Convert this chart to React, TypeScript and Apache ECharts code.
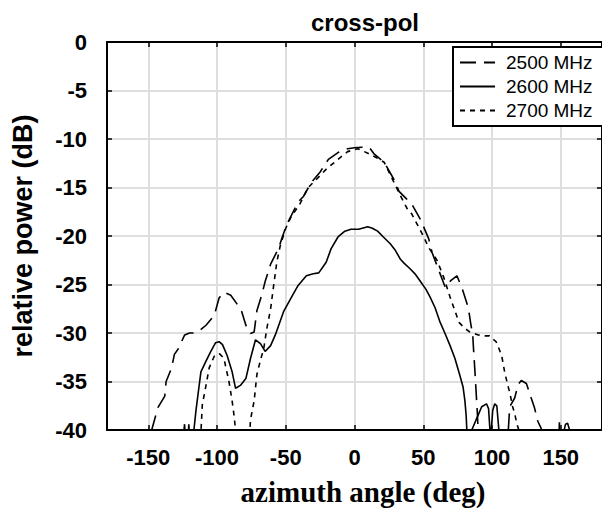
import React, { useEffect, useRef } from "react";
import * as echarts from "echarts";

const xTicks = [-150, -100, -50, 0, 50, 100, 150];
const yTicks = [0, -5, -10, -15, -20, -25, -30, -35, -40];
const seriesNames = ["2500 MHz", "2600 MHz", "2700 MHz"];

const s2500: number[][] = [
  [-152, -45], [-147.5, -40], [-143, -37.7], [-138, -36.5], [-137, -35], [-133, -33.6], [-131, -32.2],
  [-128, -31.6], [-125.5, -30.8], [-123.5, -30.2], [-120, -30.0], [-116.5, -30.0], [-113, -29.8],
  [-108, -29.2], [-102, -28.2], [-98.5, -26.4], [-95, -25.8], [-90, -26.1], [-85.5, -27], [-82, -27.8],
  [-79, -29.2], [-75.6, -30.05], [-73, -29.9], [-71, -27.7], [-67.5, -26.1], [-65, -24.7], [-61, -22.9],
  [-55, -21.2], [-53, -20.3], [-49.5, -18.9], [-46, -17.9], [-41, -16.5], [-37, -15.9], [-31.5, -14.5],
  [-25, -13.4], [-19, -12.1], [-12, -11.4], [-5, -11.0], [0, -10.9], [5, -10.85], [11, -10.9], [14, -11.5],
  [21.6, -12.4], [28.8, -14.2], [32.4, -15.4], [38, -16.2], [42, -16.8], [48, -18.3], [54, -20.3],
  [56.4, -21.7], [62, -23.8], [66, -25.3], [70, -24.6], [74.5, -24.1], [78.5, -25.5], [82.8, -27.4],
  [84.5, -29], [86, -30.2], [86.5, -31.5], [87.6, -34], [89.4, -38.4], [90.5, -42], [100, -46], [111, -42],
  [112.9, -37.6], [116.5, -36.7], [119, -35.3], [121.3, -34.9], [125, -35.2], [128.5, -36.7],
  [130.9, -37.7], [133.3, -39.1], [135.7, -39.8], [137, -41], [140, -45],
];

const s2600: number[][] = [
  [-126, -43], [-123.6, -39.4], [-122, -43], [-120.5, -39.4], [-119, -43], [-116.8, -40], [-115.3, -38],
  [-113.5, -36], [-111.7, -34], [-108, -32.9], [-104.5, -31.9], [-101, -31], [-98.5, -30.9], [-96, -31.2],
  [-92.7, -32.3], [-89, -34], [-86.5, -35.7], [-83, -35.4], [-79, -34.7], [-75.6, -32.6], [-72, -30.7],
  [-68.4, -31.1], [-65, -31.9], [-61, -31.3], [-57.6, -30.2], [-51.6, -27.8], [-45.8, -26.3], [-41, -25.1],
  [-35, -24.1], [-30, -23.9], [-26, -23.8], [-20.6, -22.7], [-17, -21.3], [-12, -20.1], [-7, -19.5],
  [-2.6, -19.3], [3, -19.3], [9.6, -19.05], [13, -19.2], [16.8, -19.5], [21, -20.1], [26, -20.8],
  [29.8, -21.5], [33.4, -22.4], [36, -22.8], [40.6, -23.4], [44, -23.9], [49, -24.9], [52, -25.5],
  [55, -26.3], [58.6, -27.4], [62, -28.8], [66, -30.1], [69.5, -31.3], [73, -32.6], [76.7, -34.4],
  [79, -35.6], [80.3, -37], [81.2, -38.5], [81.7, -40], [83, -44], [85.3, -40], [88.9, -38.8],
  [92.5, -37.6], [96, -37.3], [97.5, -37.8], [98.5, -40], [99, -42], [99.5, -40], [100.5, -38],
  [102, -37.3], [103.5, -37.5], [105, -40], [107, -45], [145, -45], [148.7, -41], [149, -39.2],
  [149.4, -40.5], [152, -40.3], [153.5, -39.4], [155, -39.3], [157, -40.3], [158, -43],
];

const s2700: number[][] = [
  [-113, -44], [-110.7, -37.4], [-108, -35.4], [-105.7, -33.6], [-102, -32.4], [-98.5, -32.1],
  [-95, -32.6], [-91.3, -35], [-89, -37], [-87.7, -38.4], [-86.5, -40], [-82, -46], [-77, -42],
  [-75.6, -38.9], [-73, -37], [-71, -34.3], [-68.4, -32.8], [-66, -31.6], [-63.7, -29.5], [-61, -27.5],
  [-58.8, -25.1], [-56.5, -22.7], [-54, -21], [-50, -19.2], [-46, -18], [-39.7, -16.7], [-33.7, -15],
  [-28, -14.2], [-20.5, -13.1], [-12, -12.1], [-5, -11.3], [2.4, -11.0], [7.2, -11.3], [14.4, -11.8],
  [21.6, -12.4], [28.8, -14.5], [33.6, -15.9], [38.4, -17.2], [41.5, -17.7], [46, -18.9], [50, -20],
  [54, -21.2], [60, -22.5], [65, -24.3], [69.5, -26.3], [73, -27.7], [76, -28.9], [80, -29.5],
  [84, -29.9], [90, -30.2], [95, -30.3], [98.2, -30.3], [103, -30.9], [107, -32.3], [109.3, -34.1],
  [111.7, -35.5], [113, -36.2], [115, -37.6], [116.5, -38.3], [118, -39.3], [119.5, -40], [122, -45],
];

const seriesData = [s2500, s2600, s2700];
const dashes: any[] = [[16, 8], "solid", [5, 5]];

export default function App() {
  const ref = useRef<HTMLDivElement>(null);
  useEffect(() => {
    if (!ref.current) return;
    const chart = echarts.init(ref.current, undefined, { renderer: "svg" });
    const sans = "'Liberation Sans', Arial, sans-serif";
    const tickLabel = { fontFamily: sans, fontWeight: "bold" as const, fontSize: 22, color: "#000" };
    const gridLine = { show: true, lineStyle: { color: "#dedede", width: 2 } };
    chart.setOption({
      animation: false,
      backgroundColor: "#fff",
      title: {
        text: "cross-pol",
        left: 306,
        top: 5,
        textStyle: { fontFamily: sans, fontWeight: "bold", fontSize: 24, color: "#000" },
      },
      grid: { left: 107, right: -4, top: 42, bottom: 79, containLabel: false },
      legend: {
        data: seriesNames,
        orient: "vertical",
        left: 453,
        top: 47,
        padding: [6, 40, 6, 6],
        itemWidth: 35,
        itemHeight: 14,
        itemGap: 5,
        borderColor: "#000",
        borderWidth: 2,
        borderRadius: 0,
        backgroundColor: "#fff",
        itemStyle: { opacity: 0 },
        textStyle: { fontFamily: sans, fontSize: 19, color: "#000", padding: [0, 0, 0, 6] },
      },
      xAxis: [
        {
          type: "value",
          min: -180,
          max: 180,
          position: "bottom",
          name: "azimuth angle (deg)",
          nameLocation: "middle",
          nameGap: 47,
          nameTextStyle: {
            fontFamily: "'Liberation Serif', 'Times New Roman', serif",
            fontWeight: "bold",
            fontSize: 29,
            color: "#000",
            padding: [0, 0, 0, 17],
          },
          axisLine: { show: true, onZero: false, lineStyle: { color: "#000", width: 2 } },
          axisTick: { show: true, inside: true, length: 5, customValues: xTicks, lineStyle: { color: "#000", width: 1.5 } },
          axisLabel: { ...tickLabel, margin: 16, customValues: xTicks },
          splitLine: gridLine,
        },
        {
          type: "value",
          min: -180,
          max: 180,
          position: "top",
          axisLine: { show: true, onZero: false, lineStyle: { color: "#000", width: 2 } },
          axisTick: { show: true, inside: true, length: 5, customValues: xTicks, lineStyle: { color: "#000", width: 1.5 } },
          axisLabel: { show: false, customValues: xTicks },
          splitLine: { show: false },
        },
      ],
      yAxis: [
        {
          type: "value",
          min: -40,
          max: 0,
          interval: 5,
          position: "left",
          name: "relative power (dB)",
          nameLocation: "middle",
          nameGap: 71,
          nameTextStyle: { fontFamily: sans, fontWeight: "bold", fontSize: 27, color: "#000" },
          axisLine: { show: true, onZero: false, lineStyle: { color: "#000", width: 2 } },
          axisTick: { show: true, inside: true, length: 5, lineStyle: { color: "#000", width: 1.5 } },
          axisLabel: { ...tickLabel, margin: 20 },
          splitLine: gridLine,
        },
        {
          type: "value",
          min: -40,
          max: 0,
          interval: 5,
          position: "right",
          axisLine: { show: true, onZero: false, lineStyle: { color: "#000", width: 2 } },
          axisTick: { show: true, inside: true, length: 5, lineStyle: { color: "#000", width: 1.5 } },
          axisLabel: { show: false },
          splitLine: { show: false },
        },
      ],
      series: seriesNames.map((name, i) => ({
        name,
        type: "line",
        xAxisIndex: 0,
        yAxisIndex: 0,
        data: seriesData[i],
        symbol: "none",
        clip: true,
        smooth: false,
        lineStyle: { color: "#000", width: 1.6, type: dashes[i] },
        itemStyle: { color: "#000" },
      })),
    });
    return () => chart.dispose();
  }, []);
  return (
    <div
      ref={ref}
      style={{ position: "fixed", left: 0, top: 0, width: 602, height: 511 }}
    />
  );
}
